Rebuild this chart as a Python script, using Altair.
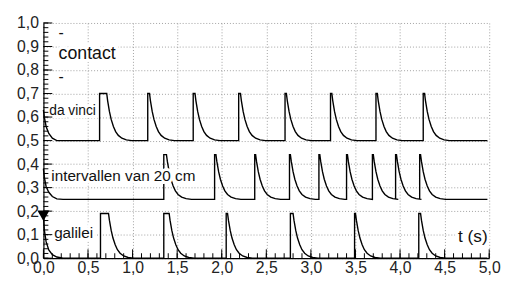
import altair as alt
import pandas as pd

# ---- data ----
series_names = ["da vinci", "intervallen", "galilei"]
baseline = {"da vinci": 0.5, "intervallen": 0.25, "galilei": 0.0}
peak = {"da vinci": 0.70, "intervallen": 0.44, "galilei": 0.19}

# pulse onset times (s) and flat-top durations (s)
davinci_t = [0.63, 1.17, 1.68, 2.19, 2.71, 3.22, 3.73, 4.26]
davinci_hold = [0.08, 0.02, 0.02, 0.02, 0.015, 0.015, 0.015, 0.015]
interv_t = [1.35, 1.92, 2.37, 2.76, 3.09, 3.40, 3.69, 3.95, 4.22]
interv_hold = [0.03, 0.015, 0.01, 0.01, 0.01, 0.01, 0.01, 0.01, 0.01]
galilei_t = [0.64, 1.35, 2.05, 2.77, 3.49, 4.21]
galilei_hold = [0.09, 0.06, 0.015, 0.03, 0.01, 0.02]

# decay after each flat top: time after end of top, fraction of pulse height
decay_dt = [0.01, 0.03, 0.05, 0.075, 0.10, 0.13, 0.17, 0.22, 0.28]
decay_frac = [0.85, 0.62, 0.45, 0.30, 0.19, 0.11, 0.05, 0.015, 0.0]

# decaying start of each trace at t = 0
start_t = [0.0, 0.01, 0.03, 0.06, 0.10, 0.15, 0.22]
davinci_start = [0.63, 0.60, 0.56, 0.53, 0.51, 0.50, 0.50]
interv_start = [0.38, 0.345, 0.305, 0.28, 0.262, 0.252, 0.25]
galilei_start = [0.18, 0.12, 0.07, 0.035, 0.015, 0.005, 0.0]
end_t = {"da vinci": 4.98, "intervallen": 4.98, "galilei": 4.98}

pulses = {
    "da vinci": (davinci_t, davinci_hold, davinci_start),
    "intervallen": (interv_t, interv_hold, interv_start),
    "galilei": (galilei_t, galilei_hold, galilei_start),
}

rows = []
for name in series_names:
    times, holds, start = pulses[name]
    b, p = baseline[name], peak[name]
    pts = list(zip(start_t, start))
    for t0, h in zip(times, holds):
        pts.append((t0, b))
        pts.append((t0, p))
        pts.append((t0 + h, p))
        for dt, fr in zip(decay_dt, decay_frac):
            pts.append((t0 + h + dt, b + (p - b) * fr))
    pts.append((end_t[name], b))
    for i, (t, v) in enumerate(pts):
        rows.append({"series": name, "t": t, "v": v, "i": i})
df = pd.DataFrame(rows)

labels = pd.DataFrame({
    "text": ["-", "contact", "-", "da vinci", "intervallen van 20 cm", "galilei", "t (s)"],
    "x": [0.17, 0.17, 0.17, 0.065, 0.088, 0.12, 4.65],
    "y": [0.955, 0.866, 0.77, 0.625, 0.35, 0.105, 0.088],
    "size": [16, 18, 16, 14, 15.5, 15.5, 17.5],
})

marker = pd.DataFrame({"x": [0.0], "y": [0.18]})

x_major = [0.0, 0.5, 1.0, 1.5, 2.0, 2.5, 3.0, 3.5, 4.0, 4.5, 5.0]
y_major = [0.0, 0.1, 0.2, 0.3, 0.4, 0.5, 0.6, 0.7, 0.8, 0.9, 1.0]
x_minor = [round(i * 0.1, 2) for i in range(51)]
y_minor = [round(i * 0.02, 2) for i in range(51)]

W, H = 453, 239
FONT = "Liberation Sans"
lab = "replace(format(datum.value, '.1f'), '.', ',')"

xs = alt.Scale(domain=[0, 5], nice=False, zero=False)
ys = alt.Scale(domain=[0, 1], nice=False, zero=False)

xaxis = alt.Axis(values=x_major, labelExpr=lab, ticks=False, grid=True, title=None,
                 gridDash=[1, 2], gridColor="#a0a0a0", domainColor="black",
                 domainWidth=1.2, labelFont=FONT, labelFontSize=16,
                 labelColor="#222", labelPadding=2, labelFlush=False,
                 labelOverlap=False)
yaxis = alt.Axis(values=y_major, labelExpr=lab, ticks=False, grid=True, title=None,
                 gridDash=[1, 2], gridColor="#a0a0a0", domainColor="black",
                 domainWidth=1.2, labelFont=FONT, labelFontSize=16,
                 labelColor="#222", labelPadding=5, labelFlush=False,
                 labelOverlap=False)

X0 = lambda f: alt.X(f, scale=xs, axis=xaxis, title=None)
Y0 = lambda f: alt.Y(f, scale=ys, axis=yaxis, title=None)

lines = alt.Chart(df).mark_line(color="black", strokeWidth=1.4, interpolate="linear").encode(
    x=X0("t:Q"), y=Y0("v:Q"), detail="series:N", order="i:Q",
)

halo = alt.Chart(labels).mark_text(align="left", baseline="middle", font=FONT,
                                   color="white", stroke="white", strokeWidth=6).encode(
    x=X0("x:Q"), y=Y0("y:Q"),
    text="text:N", size=alt.Size("size:Q", scale=None))
texts = alt.Chart(labels).mark_text(align="left", baseline="middle", font=FONT,
                                    color="#111").encode(
    x=X0("x:Q"), y=Y0("y:Q"),
    text="text:N", size=alt.Size("size:Q", scale=None))

tri = alt.Chart(marker).mark_point(shape="triangle-down", filled=True, color="black",
                                   size=150, opacity=1).encode(
    x=X0("x:Q"), y=Y0("y:Q"))

def xticks(vals, ln):
    return alt.Chart(pd.DataFrame({"v": vals})).mark_rule(color="black", strokeWidth=1).encode(
        x=X0("v:Q"), y=alt.value(H), y2=alt.value(H - ln))

def yticks(vals, ln):
    return alt.Chart(pd.DataFrame({"v": vals})).mark_rule(color="black", strokeWidth=1).encode(
        y=Y0("v:Q"), x=alt.value(0), x2=alt.value(ln))

chart = alt.layer(
    lines, halo, texts, tri,
    xticks(x_minor, 5), xticks(x_major, 9),
    yticks(y_minor, 5), yticks(y_major, 9),
).properties(
    width=W, height=H,
    autosize=alt.AutoSizeParams(type="none"),
    padding={"left": 36, "top": 13, "right": 13, "bottom": 22},
    background="white",
).configure_view(stroke=None).configure_axis(labelOverlap=False)

chart.save("out.html", embed_options={"renderer": "svg", "actions": False})
